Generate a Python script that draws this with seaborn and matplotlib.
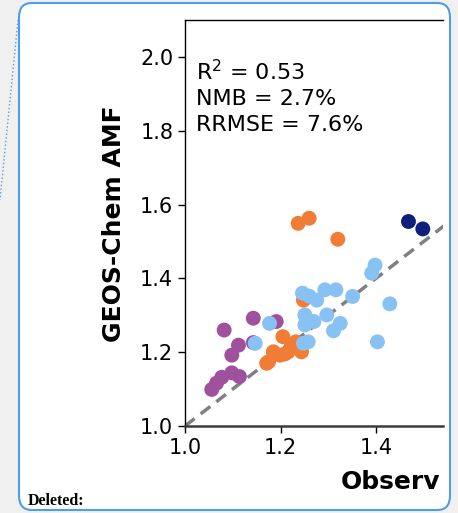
import numpy as np
import pandas as pd
import matplotlib
matplotlib.use('Agg')
import matplotlib.pyplot as plt
import seaborn as sns
from matplotlib.patches import FancyBboxPatch
from matplotlib.lines import Line2D

sns.set_style('white')
plt.rcParams['font.family'] = ['DejaVu Sans']
plt.rcParams['text.color'] = 'black'
plt.rcParams['xtick.color'] = 'black'
plt.rcParams['ytick.color'] = 'black'

purple_obs = [1.082, 1.143, 1.191, 1.112, 1.098, 1.143, 1.056, 1.066, 1.077, 1.098, 1.114]
purple_mod = [1.260, 1.292, 1.283, 1.219, 1.192, 1.226, 1.099, 1.116, 1.132, 1.144, 1.134]
orange_obs = [1.237, 1.260, 1.320, 1.248, 1.175, 1.185, 1.205, 1.209, 1.221, 1.232, 1.244, 1.199,
              1.171, 1.216]
orange_mod = [1.549, 1.563, 1.506, 1.341, 1.174, 1.201, 1.242, 1.195, 1.211, 1.228, 1.201, 1.192,
              1.170, 1.201]
blue_obs = [1.398, 1.391, 1.429, 1.403, 1.351, 1.316, 1.293, 1.276, 1.260, 1.246, 1.297, 1.251,
            1.270, 1.251, 1.325, 1.311, 1.258, 1.248, 1.177, 1.147]
blue_mod = [1.436, 1.414, 1.331, 1.228, 1.351, 1.369, 1.369, 1.341, 1.352, 1.360, 1.301, 1.301,
            1.283, 1.274, 1.278, 1.258, 1.228, 1.224, 1.278, 1.224]
navy_obs = [1.468, 1.498]
navy_mod = [1.554, 1.534]

stats_text = 'R$^{2}$ = 0.53\nNMB = 2.7%\nRRMSE = 7.6%'
xticks = [1.0, 1.2, 1.4]
yticks = [1.0, 1.2, 1.4, 1.6, 1.8, 2.0]

groups = ['purple', 'orange', 'blue', 'navy']
colors = {'purple': '#a0519d', 'orange': '#f07c35', 'blue': '#88c1f3', 'navy': '#0e1f7c'}

df = pd.concat([
    pd.DataFrame({'obs': purple_obs, 'model': purple_mod, 'grp': 'purple'}),
    pd.DataFrame({'obs': orange_obs, 'model': orange_mod, 'grp': 'orange'}),
    pd.DataFrame({'obs': blue_obs, 'model': blue_mod, 'grp': 'blue'}),
    pd.DataFrame({'obs': navy_obs, 'model': navy_mod, 'grp': 'navy'}),
], ignore_index=True)

W, H = 458, 513
fig = plt.figure(figsize=(W / 100, H / 100), dpi=100)
fig.patch.set_facecolor('#f0f0f0')

# comment balloon behind everything
box = FancyBboxPatch((19 / W, 1 - 510 / H), (450 - 19) / W, (510 - 3) / H,
                     boxstyle='round,pad=0,rounding_size=0.028',
                     transform=fig.transFigure, facecolor='white',
                     edgecolor='#4d9de8', linewidth=1.5, zorder=-5)
fig.patches.append(box)
fig.lines.append(Line2D([18 / W, 0], [1 - 20 / H, 1 - 200 / H], transform=fig.transFigure,
                        color='#4d9de8', linestyle=':', linewidth=1.0, zorder=-4))

ax = fig.add_axes([185 / W, 1 - 426 / H, 258 / W, 406 / H])
ax.set_zorder(2)
ax.set_facecolor('white')
sns.scatterplot(data=df, x='obs', y='model', hue='grp', palette=colors,
                hue_order=groups, s=115, linewidth=0, alpha=1, legend=False, ax=ax, zorder=3)
ax.plot([1.0, 2.1], [1.0, 2.1], color='gray', linestyle='--', linewidth=2.5,
        dashes=(3.5, 2.2), zorder=2)

ax.set_xlim(1.0, 1.0 + 258 / 477.5)
ax.set_ylim(1.0, 2.1)
ax.set_xticks(xticks)
ax.set_yticks(yticks)
ax.tick_params(axis='both', labelsize=15, direction='out', length=5, width=1,
               left=True, bottom=True)
ax.set_xlabel('')
ax.set_ylabel('')
ax.spines['right'].set_visible(False)
for side in ['left', 'top']:
    ax.spines[side].set_color('black')
    ax.spines[side].set_linewidth(1.0)
ax.spines['bottom'].set_color('#3c3c3c')
ax.spines['bottom'].set_linewidth(1.8)

ax.text(0.043, 0.905, stats_text, transform=ax.transAxes, fontsize=16,
        va='top', ha='left', linespacing=1.35)

fig.text(114 / W, 1 - 224 / H, 'GEOS-Chem AMF', rotation=90, ha='center', va='center',
         fontsize=18, fontweight='bold')
fig.text(341 / W, 1 - 489 / H, 'Observ', ha='left', va='baseline',
         fontsize=18, fontweight='bold')
fig.text(28 / W, 1 - 505 / H, 'Deleted:', ha='left', va='baseline',
         fontsize=11.5, fontweight='bold', family=['Liberation Serif', 'DejaVu Serif'])

fig.savefig('out.png', dpi=100, facecolor=fig.get_facecolor())
